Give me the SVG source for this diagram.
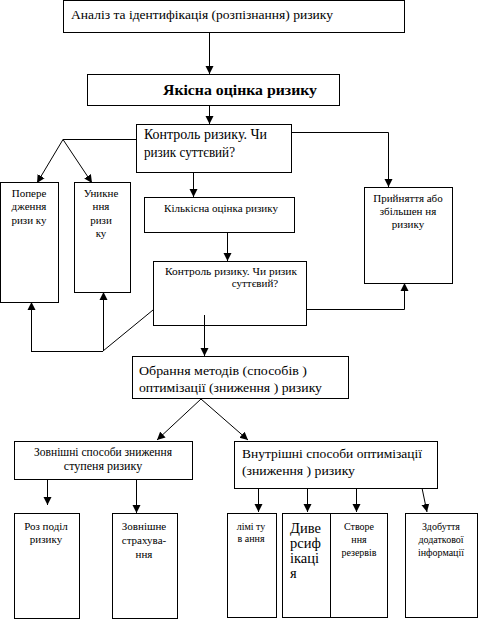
<svg xmlns="http://www.w3.org/2000/svg" width="478" height="619" viewBox="0 0 478 619" font-family="Liberation Serif, Times New Roman, serif">
<defs>
<style>
rect{fill:#fff;stroke:#000;stroke-width:1}
text{fill:#000}
.c line,.c polyline{stroke:#000;stroke-width:1;fill:none}
.m{text-anchor:middle}
</style>
<marker id="ah" markerUnits="userSpaceOnUse" markerWidth="8" markerHeight="9" refX="8" refY="4" orient="auto" viewBox="0 0 8 8">
<path d="M0,0 L8,4 L0,8 z" fill="#000"/>
</marker>
</defs>
<rect x="0" y="0" width="478" height="619" style="stroke:none"/>
<g id="n1"><rect x="63.5" y="0.5" width="341" height="32"/><text x="71" y="19" font-size="13" textLength="262" lengthAdjust="spacingAndGlyphs">Аналіз та ідентифікація (розпізнання) ризику</text></g>
<g id="n2"><rect x="87.5" y="74.5" width="252" height="31"/><text x="163" y="95" font-size="15" font-weight="bold" textLength="154" lengthAdjust="spacingAndGlyphs">Якісна оцінка ризику</text></g>
<g id="n3"><rect x="136.5" y="124.5" width="155" height="48"/><text x="144" y="139" font-size="14" textLength="123" lengthAdjust="spacingAndGlyphs">Контроль ризику. Чи</text><text x="144" y="157" font-size="14" textLength="91" lengthAdjust="spacingAndGlyphs">ризик суттєвий?</text></g>
<g id="n4"><rect x="0.5" y="182.5" width="58" height="120"/><text class="m" x="29" y="197" font-size="11">Попере</text><text class="m" x="29" y="210" font-size="11">дження</text><text class="m" x="29" y="224" font-size="11">ризи ку</text></g>
<g id="n5"><rect x="74.5" y="182.5" width="56" height="110"/><text class="m" x="101" y="197" font-size="11">Уникне</text><text class="m" x="101" y="210" font-size="11">ння</text><text class="m" x="101" y="224" font-size="11">ризи</text><text class="m" x="101" y="237" font-size="11">ку</text></g>
<g id="n6"><rect x="144.5" y="197.5" width="150" height="35"/><text x="164" y="212" font-size="11" textLength="114" lengthAdjust="spacingAndGlyphs">Кількісна оцінка ризику</text></g>
<g id="n7"><rect x="364.5" y="187.5" width="88" height="96"/><text class="m" x="408" y="202" font-size="11">Прийняття або</text><text class="m" x="408" y="215" font-size="11">збільшен  ня</text><text class="m" x="408" y="228" font-size="11">ризику</text></g>
<g id="n8"><rect x="153.5" y="261.5" width="153" height="64"/><text x="165" y="275" font-size="11" textLength="132" lengthAdjust="spacingAndGlyphs">Контроль ризику. Чи ризик</text><text class="m" x="255" y="287" font-size="11">суттєвий?</text></g>
<g id="n9"><rect x="132.5" y="356.5" width="216" height="42"/><text x="139" y="375" font-size="13.5" textLength="168" lengthAdjust="spacingAndGlyphs">Обрання методів (способів )</text><text x="139" y="392" font-size="13.5" textLength="183" lengthAdjust="spacingAndGlyphs">оптимізації (зниження ) ризику</text></g>
<g id="n10"><rect x="14.5" y="441.5" width="178" height="38"/><text x="34" y="456" font-size="12" textLength="138" lengthAdjust="spacingAndGlyphs">Зовнішні способи зниження</text><text class="m" x="103" y="470" font-size="12">ступеня ризику</text></g>
<g id="n11"><rect x="234.5" y="441.5" width="203" height="47"/><text x="242" y="458" font-size="13.5" textLength="180" lengthAdjust="spacingAndGlyphs">Внутрішні способи оптимізації</text><text x="242" y="475" font-size="13.5" textLength="113" lengthAdjust="spacingAndGlyphs">(зниження ) ризику</text></g>
<g id="n12"><rect x="14.5" y="513.5" width="65" height="105"/><text class="m" x="46" y="530" font-size="11">Роз поділ</text><text class="m" x="46" y="543" font-size="11">ризику</text></g>
<g id="n13"><rect x="112.5" y="513.5" width="65" height="105"/><text class="m" x="144" y="530" font-size="11">Зовнішне</text><text class="m" x="144" y="544" font-size="11">страхува-</text><text class="m" x="144" y="558" font-size="11">ння</text></g>
<g id="n14"><rect x="227.5" y="513.5" width="49" height="104"/><text class="m" x="251" y="530" font-size="10">лімі ту</text><text class="m" x="251" y="542" font-size="10">в ання</text></g>
<g id="n15"><rect x="282.5" y="513.5" width="48" height="104"/><text x="290" y="533" font-size="14.5">Диве</text><text x="290" y="548" font-size="14.5">рсиф</text><text x="290" y="563" font-size="14.5">ікаці</text><text x="290" y="578" font-size="14.5">я</text></g>
<g id="n16"><rect x="330.5" y="513.5" width="57" height="104"/><text class="m" x="359" y="530" font-size="10">Створе</text><text class="m" x="359" y="543" font-size="10">ння</text><text class="m" x="359" y="556" font-size="10">резервів</text></g>
<g id="n17"><rect x="405.5" y="513.5" width="72" height="104"/><text class="m" x="441" y="530" font-size="10">Здобуття</text><text class="m" x="441" y="543" font-size="10">додаткової</text><text class="m" x="441" y="556" font-size="10">інформації</text></g>
<g class="c" id="connectors">
<line x1="209.5" y1="32" x2="209.5" y2="74" marker-end="url(#ah)"/>
<line x1="209.5" y1="105" x2="209.5" y2="124" marker-end="url(#ah)"/>
<line x1="136" y1="139.5" x2="63" y2="139.5"/>
<line x1="63" y1="139.5" x2="37" y2="183" marker-end="url(#ah)"/>
<line x1="63" y1="139.5" x2="92" y2="183" marker-end="url(#ah)"/>
<polyline points="291,132.5 388.5,132.5 388.5,187" marker-end="url(#ah)"/>
<line x1="193.5" y1="172" x2="193.5" y2="197" marker-end="url(#ah)"/>
<line x1="227.5" y1="232" x2="227.5" y2="261" marker-end="url(#ah)"/>
<polyline points="306,309.5 404.5,309.5 404.5,283" marker-end="url(#ah)"/>
<line x1="153" y1="310" x2="103" y2="351"/>
<line x1="31" y1="351.5" x2="103" y2="351.5"/>
<line x1="31.5" y1="351" x2="31.5" y2="302" marker-end="url(#ah)"/>
<line x1="103.5" y1="351" x2="103.5" y2="292" marker-end="url(#ah)"/>
<line x1="204.5" y1="315" x2="204.5" y2="356" marker-end="url(#ah)"/>
<line x1="201" y1="399" x2="157" y2="440" marker-end="url(#ah)"/>
<line x1="201" y1="399" x2="248" y2="440" marker-end="url(#ah)"/>
<line x1="47.5" y1="479" x2="47.5" y2="505" marker-end="url(#ah)"/>
<line x1="136.5" y1="479" x2="136.5" y2="513" marker-end="url(#ah)"/>
<line x1="258.5" y1="488" x2="258.5" y2="512" marker-end="url(#ah)"/>
<line x1="307.5" y1="488" x2="307.5" y2="512" marker-end="url(#ah)"/>
<line x1="356.5" y1="488" x2="356.5" y2="512" marker-end="url(#ah)"/>
<line x1="422" y1="488" x2="427" y2="512" marker-end="url(#ah)"/>
</g>
</svg>
